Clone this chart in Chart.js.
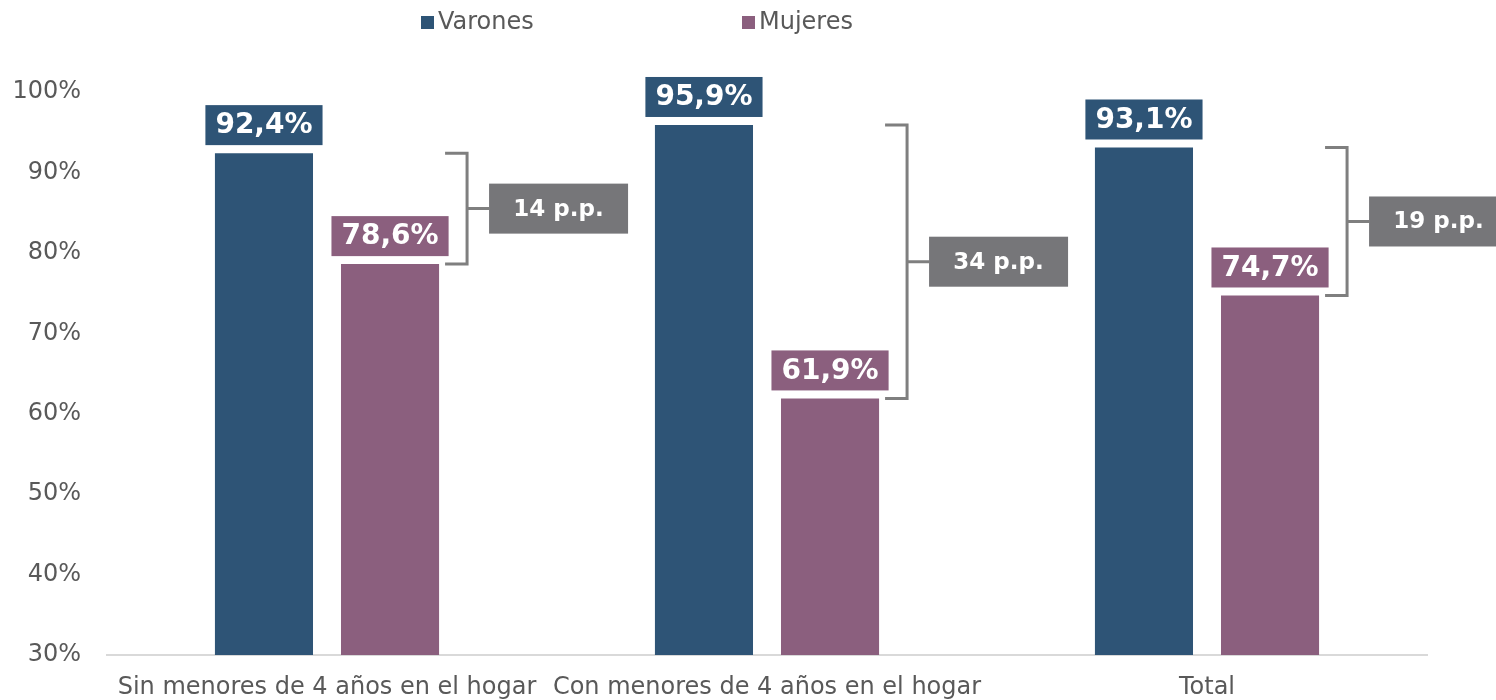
<!DOCTYPE html>
<html>
<head>
<meta charset="utf-8">
<script src="https://cdn.jsdelivr.net/npm/chart.js@4.4.1/dist/chart.umd.min.js"></script>
<style>
  body { margin: 0; background: #fff; }
  #wrap { width: 1496px; height: 700px; }
</style>
</head>
<body>
<div id="wrap"><canvas id="myChart" width="1496" height="700"></canvas></div>
<script>
const categories = ['Sin menores de 4 años en el hogar', 'Con menores de 4 años en el hogar', 'Total'];
const seriesNames = ['Varones', 'Mujeres'];
const varones = [92.4, 95.9, 93.1];
const mujeres = [78.6, 61.9, 74.7];
const gapLabels = ['14 p.p.', '34 p.p.', '19 p.p.'];

const colors = ['#2E5476', '#8B5F7E'];
const FONT = "'DejaVu Sans', Verdana, sans-serif";

const fmt = (v) => v.toFixed(1).replace('.', ',') + '%';

// legend drawn by hand so the wide gap between items can be kept
const topLegend = {
  id: 'topLegend',
  afterDraw(chart) {
    const ctx = chart.ctx;
    const xs = [421, 742];
    ctx.save();
    ctx.font = '24px ' + FONT;
    ctx.textBaseline = 'middle';
    chart.data.datasets.forEach((ds, i) => {
      ctx.fillStyle = ds.backgroundColor;
      ctx.fillRect(xs[i], 16, 13, 13);
      ctx.fillStyle = '#595959';
      ctx.fillText(ds.label, xs[i] + 17, 23);
    });
    ctx.restore();
  },
};

// value boxes above each bar
const valueBoxes = {
  id: 'valueBoxes',
  afterDatasetsDraw(chart) {
    const ctx = chart.ctx;
    ctx.save();
    ctx.font = 'bold 28px ' + FONT;
    ctx.textAlign = 'center';
    ctx.textBaseline = 'middle';
    chart.data.datasets.forEach((ds, di) => {
      chart.getDatasetMeta(di).data.forEach((bar, i) => {
        const txt = fmt(ds.data[i]);
        const w = ctx.measureText(txt).width + 20;
        const h = 40;
        const bottom = bar.y - 8;
        ctx.fillStyle = ds.backgroundColor;
        ctx.fillRect(bar.x - w / 2, bottom - h, w, h);
        ctx.fillStyle = '#ffffff';
        ctx.fillText(txt, bar.x, bottom - h / 2 + 1);
      });
    });
    ctx.restore();
  },
};

// brackets with the gap in percentage points
const gapBrackets = {
  id: 'gapBrackets',
  afterDatasetsDraw(chart) {
    const ctx = chart.ctx;
    const y = chart.scales.y;
    const metaM = chart.getDatasetMeta(1);
    ctx.save();
    categories.forEach((c, i) => {
      const bar = metaM.data[i];
      const yTop = y.getPixelForValue(varones[i]);
      const yBot = y.getPixelForValue(mujeres[i]);
      const x0 = bar.x + bar.width / 2 + 6;
      const xv = x0 + 22;
      const mid = (yTop + yBot) / 2;
      ctx.strokeStyle = '#7F7F7F';
      ctx.lineWidth = 3;
      ctx.beginPath();
      ctx.moveTo(x0, yTop);
      ctx.lineTo(xv, yTop);
      ctx.lineTo(xv, yBot);
      ctx.lineTo(x0, yBot);
      ctx.moveTo(xv, mid);
      ctx.lineTo(xv + 22, mid);
      ctx.stroke();
      const bx = xv + 22;
      ctx.fillStyle = '#767679';
      ctx.fillRect(bx, mid - 25, 139, 50);
      ctx.fillStyle = '#ffffff';
      ctx.font = 'bold 23px ' + FONT;
      ctx.textAlign = 'center';
      ctx.textBaseline = 'middle';
      ctx.fillText(gapLabels[i], bx + 69.5, mid + 1);
    });
    ctx.restore();
  },
};

const ctx = document.getElementById('myChart').getContext('2d');
new Chart(ctx, {
  type: 'bar',
  data: {
    labels: categories,
    datasets: [
      { label: seriesNames[0], data: varones, backgroundColor: colors[0] },
      { label: seriesNames[1], data: mujeres, backgroundColor: colors[1] },
    ],
  },
  options: {
    responsive: false,
    animation: false,
    categoryPercentage: 0.573,
    barPercentage: 0.778,
    layout: { padding: { top: 92, right: 69, left: 0, bottom: 0 } },
    plugins: {
      legend: { display: false },
      tooltip: { enabled: false },
    },
    scales: {
      x: {
        grid: { display: false },
        border: { display: true, color: '#D9D9D9', width: 2 },
        ticks: {
          color: '#595959',
          font: { family: FONT, size: 24 },
          maxRotation: 0,
          autoSkip: false,
          padding: 10,
        },
        afterFit(scale) { scale.height = 45; },
      },
      y: {
        min: 30,
        max: 100,
        grid: { display: false },
        border: { display: false },
        ticks: {
          stepSize: 10,
          color: '#595959',
          font: { family: FONT, size: 24 },
          padding: 18,
          callback: (v) => v + '%',
        },
        afterFit(scale) { scale.width = 107; },
      },
    },
  },
  plugins: [topLegend, valueBoxes, gapBrackets],
});
</script>
</body>
</html>
